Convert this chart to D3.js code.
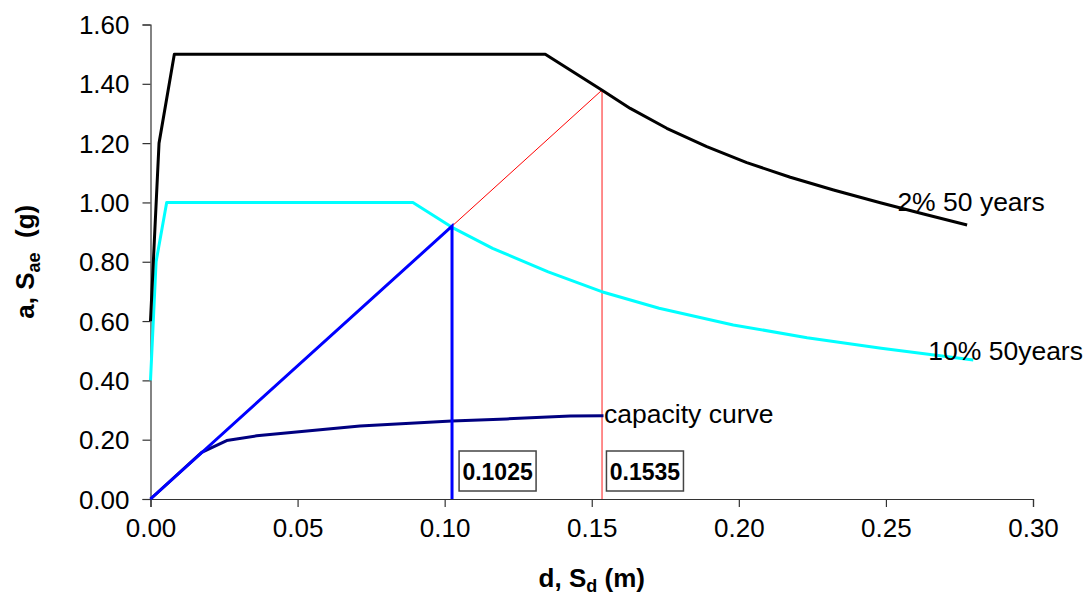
<!DOCTYPE html>
<html>
<head>
<meta charset="utf-8">
<script src="https://cdn.jsdelivr.net/npm/d3@7"></script>
<style>
  body { margin: 0; background: #fff; }
  text { font-family: Arial, "Liberation Sans", sans-serif; }
</style>
</head>
<body>
<div id="plot"></div>
<script>
// 2% in 50 years spectrum (Sd in m, Sae in g)
const spec2D = [0, 0.0029, 0.0081, 0.1342, 0.1534, 0.1631, 0.1755, 0.1891, 0.2027, 0.2175, 0.2322, 0.2481, 0.2628, 0.2776];
const spec2A = [0.60, 1.20, 1.50, 1.50, 1.379, 1.317, 1.250, 1.188, 1.134, 1.085, 1.042, 0.999, 0.961, 0.924];

// 10% in 50 years spectrum
const spec10D = [0, 0.0019, 0.0055, 0.0892, 0.1025, 0.1163, 0.1352, 0.1534, 0.1729, 0.1981, 0.2232, 0.2484, 0.2797];
const spec10A = [0.40, 0.80, 1.00, 1.00, 0.916, 0.845, 0.766, 0.699, 0.643, 0.587, 0.544, 0.508, 0.469];

// capacity curve
const capD = [0, 0.0174, 0.0259, 0.0361, 0.0712, 0.1024, 0.1211, 0.1427, 0.154];
const capA = [0, 0.157, 0.197, 0.213, 0.246, 0.263, 0.270, 0.280, 0.281];

// performance points
const perfD = [0.1025, 0.1535];
const perfA = [0.92, 1.379];
const perfLabels = ["0.1025", "0.1535"];

const xTicks = [0, 0.05, 0.10, 0.15, 0.20, 0.25, 0.30];
const yTicks = [0, 0.2, 0.4, 0.6, 0.8, 1.0, 1.2, 1.4, 1.6];
const curveLabels = ["2% 50 years", "10% 50years", "capacity curve"];

const W = 1089, H = 599;
const margin = { top: 24.5, right: 56, bottom: 100, left: 150.5 };
const width = W - margin.left - margin.right;
const height = H - margin.top - margin.bottom;

const svg = d3.select("#plot")
  .append("svg")
  .attr("width", W)
  .attr("height", H);

const g = svg.append("g")
  .attr("transform", `translate(${margin.left},${margin.top})`);

const x = d3.scaleLinear().domain([0, 0.30]).range([0, width]);
const y = d3.scaleLinear().domain([0, 1.60]).range([height, 0]);

// axes
const xAxis = g.append("g")
  .attr("transform", `translate(0,${height})`)
  .call(d3.axisBottom(x).tickValues(xTicks).tickFormat(d3.format(".2f")).tickSize(8).tickPadding(12));
const yAxis = g.append("g")
  .call(d3.axisLeft(y).tickValues(yTicks).tickFormat(d3.format(".2f")).tickSize(8).tickPadding(13));

[xAxis, yAxis].forEach(a => {
  a.select(".domain").attr("stroke", "#333").attr("stroke-width", 1.2);
  a.selectAll(".tick line").attr("stroke", "#333").attr("stroke-width", 1.2);
  a.selectAll(".tick text")
    .attr("fill", "#000")
    .style("font-size", "26px")
    .style("font-family", "Arial, 'Liberation Sans', sans-serif");
});
yAxis.selectAll(".tick text").attr("dy", "0.35em");

const line = d3.line().x(d => x(d[0])).y(d => y(d[1]));
const zip = (a, b) => a.map((v, i) => [v, b[i]]);

// demand lines
g.append("path")
  .datum([[perfD[0], perfA[0]], [perfD[1], perfA[1]]])
  .attr("d", line).attr("fill", "none").attr("stroke", "#ff0000").attr("stroke-width", 1);
g.append("path")
  .datum([[perfD[1], perfA[1]], [perfD[1], 0]])
  .attr("d", line).attr("fill", "none").attr("stroke", "#ff7070").attr("stroke-width", 1.6);

// spectra
g.append("path").datum(zip(spec10D, spec10A))
  .attr("d", line).attr("fill", "none").attr("stroke", "#00ffff").attr("stroke-width", 3)
  .attr("stroke-linejoin", "round");
g.append("path").datum(zip(spec2D, spec2A))
  .attr("d", line).attr("fill", "none").attr("stroke", "#000").attr("stroke-width", 3)
  .attr("stroke-linejoin", "round");

// capacity curve
g.append("path").datum(zip(capD, capA))
  .attr("d", line).attr("fill", "none").attr("stroke", "#000080").attr("stroke-width", 3)
  .attr("stroke-linejoin", "round");

// blue elastic line and drop
g.append("path")
  .datum([[0, 0], [perfD[0], perfA[0]], [perfD[0], 0]])
  .attr("d", line).attr("fill", "none").attr("stroke", "#0000ff").attr("stroke-width", 3);

// curve labels
const labelPos = [[0.2539, 0.97], [0.2644, 0.468], [0.1542, 0.255]];
curveLabels.forEach((t, i) => {
  g.append("text")
    .attr("x", x(labelPos[i][0]))
    .attr("y", y(labelPos[i][1]))
    .style("font-size", "26.5px")
    .attr("fill", "#000")
    .text(t);
});

// value boxes
const boxX = [0.1049, 0.155];
perfLabels.forEach((t, i) => {
  const bx = x(boxX[i]);
  const by = height - 48;
  g.append("rect")
    .attr("x", bx).attr("y", by)
    .attr("width", 77).attr("height", 40)
    .attr("fill", "#fff").attr("stroke", "#444").attr("stroke-width", 1.5);
  g.append("text")
    .attr("x", bx + 38.5).attr("y", by + 28.5)
    .attr("text-anchor", "middle")
    .style("font-size", "23px").style("font-weight", "bold")
    .text(t);
});

// axis titles
const xt = svg.append("text")
  .attr("x", margin.left + width / 2)
  .attr("y", 587)
  .attr("text-anchor", "middle")
  .style("font-size", "26px").style("font-weight", "bold");
xt.append("tspan").text("d, S");
xt.append("tspan").attr("dy", 5).style("font-size", "18px").text("d");
xt.append("tspan").attr("dy", -5).text(" (m)");

const yt = svg.append("text")
  .attr("transform", `translate(34,${margin.top + height / 2}) rotate(-90)`)
  .attr("text-anchor", "middle")
  .style("font-size", "26px").style("font-weight", "bold");
yt.append("tspan").text("a, S");
yt.append("tspan").attr("dy", 6).style("font-size", "18px").text("ae");
yt.append("tspan").attr("dy", -6).text("\u00a0\u00a0(g)");
</script>
</body>
</html>
